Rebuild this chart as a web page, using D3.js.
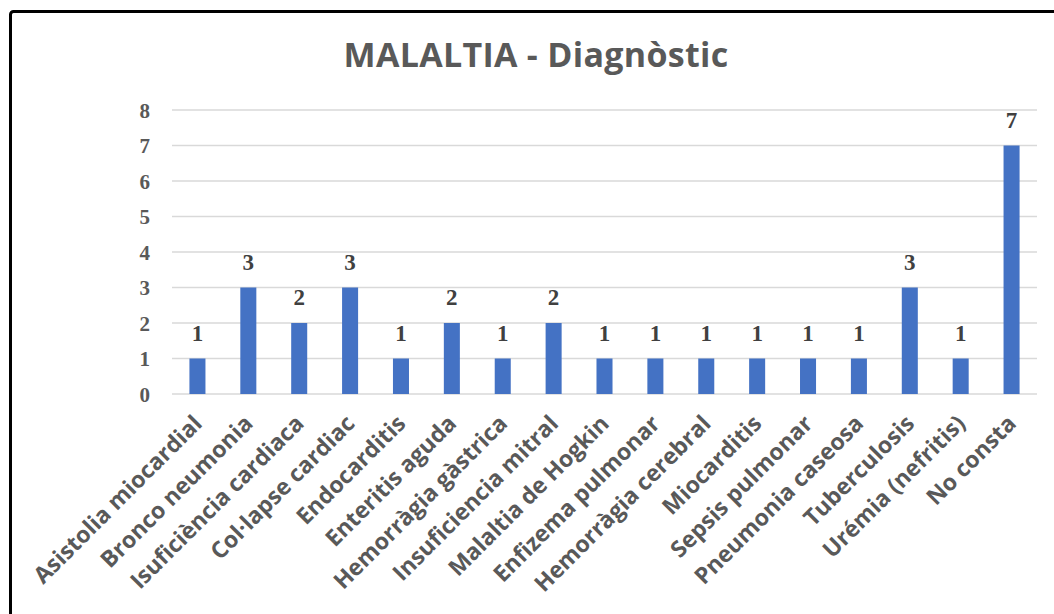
<!DOCTYPE html>
<html>
<head>
<meta charset="utf-8">
<script src="https://cdn.jsdelivr.net/npm/d3@7"></script>
<style>
    body { margin: 0; background: #fff; }
    svg { display: block; }
</style>
</head>
<body>
<svg id="chart"></svg>
<script>
let width = 1054;
let height = 614;
let margin = {"top": 110, "bottom": 220, "left": 172, "right": 17};

// data
const categories = ["Asistolia miocardial", "Bronco neumonia", "Isuficiència cardiaca", "Col·lapse cardiac",
    "Endocarditis", "Enteritis aguda", "Hemorràgia gàstrica", "Insuficiencia mitral", "Malaltia de Hogkin",
    "Enfizema pulmonar", "Hemorràgia cerebral", "Miocarditis", "Sepsis pulmonar", "Pneumonia caseosa",
    "Tuberculosis", "Urémia (nefritis)", "No consta"];
const counts = [1, 3, 2, 3, 1, 2, 1, 2, 1, 1, 1, 1, 1, 1, 3, 1, 7];
const yTicks = [0, 1, 2, 3, 4, 5, 6, 7, 8];
const title = "MALALTIA - Diagnòstic";

let svg = d3.select("#chart")
    .attr("width", width)
    .attr("height", height);

// frame (only top & left edges show inside the crop)
svg.append("rect")
    .attr("x", 10.5)
    .attr("y", 11.5)
    .attr("width", width + 20)
    .attr("height", height + 20)
    .attr("rx", 3)
    .style("fill", "none")
    .style("stroke", "#000")
    .style("stroke-width", 3);

svg.append("text")
    .attr("x", 536)
    .attr("y", 67)
    .style("text-anchor", "middle")
    .style("font-family", "'Open Sans', sans-serif")
    .style("font-weight", "bold")
    .style("font-size", "34px")
    .style("letter-spacing", "0.3px")
    .style("fill", "#595959")
    .text(title);

let x = d3.scaleBand()
    .domain(categories)
    .range([margin.left, width - margin.right])
    .paddingInner(0.685)
    .paddingOuter(0.3425);

let y = d3.scaleLinear()
    .domain([0, 8])
    .range([height - margin.bottom, margin.top]);

// gridlines
svg.append("g").selectAll("line")
    .data(yTicks)
    .enter().append("line")
    .attr("x1", margin.left)
    .attr("x2", width - margin.right)
    .attr("y1", (d) => y(d))
    .attr("y2", (d) => y(d))
    .style("stroke", "#d9d9d9")
    .style("stroke-width", 1.5);

// y axis labels
let yAxis = svg.append("g")
    .attr("transform", `translate(${margin.left - 22},0)`)
    .call(d3.axisLeft(y).tickValues(yTicks).tickSize(0).tickFormat(d3.format("d")));
yAxis.select(".domain").remove();
yAxis.selectAll("text")
    .attr("x", 0)
    .attr("dy", "0.35em")
    .style("font-family", "'Liberation Serif', serif")
    .style("font-weight", "bold")
    .style("font-size", "21px")
    .style("fill", "#595959");

// bars
svg.append("g").selectAll("rect.bar")
    .data(counts)
    .enter().append("rect")
    .attr("class", "bar")
    .attr("x", (d, i) => x(categories[i]))
    .attr("width", x.bandwidth())
    .attr("y", (d) => y(d))
    .attr("height", (d) => y(0) - y(d))
    .style("fill", "#4472c4");

// value labels
svg.append("g").selectAll("text")
    .data(counts)
    .enter().append("text")
    .attr("x", (d, i) => x(categories[i]) + x.bandwidth() / 2)
    .attr("y", (d) => y(d) - 18)
    .style("text-anchor", "middle")
    .style("font-family", "'Liberation Serif', serif")
    .style("font-weight", "bold")
    .style("font-size", "23px")
    .style("fill", "#404040")
    .text((d) => d);

// category labels, rotated
let xAxis = svg.append("g")
    .attr("transform", `translate(0,${y(0)})`)
    .call(d3.axisBottom(x).tickSize(0));
xAxis.select(".domain").remove();
xAxis.selectAll("text")
    .attr("x", 0)
    .attr("y", 0)
    .attr("dy", 0)
    .attr("transform", "translate(6,31) rotate(-45)")
    .style("text-anchor", "end")
    .style("font-family", "'Open Sans', sans-serif")
    .style("font-weight", "bold")
    .style("font-size", "23px")
    .style("fill", "#595959");
</script>
</body>
</html>
